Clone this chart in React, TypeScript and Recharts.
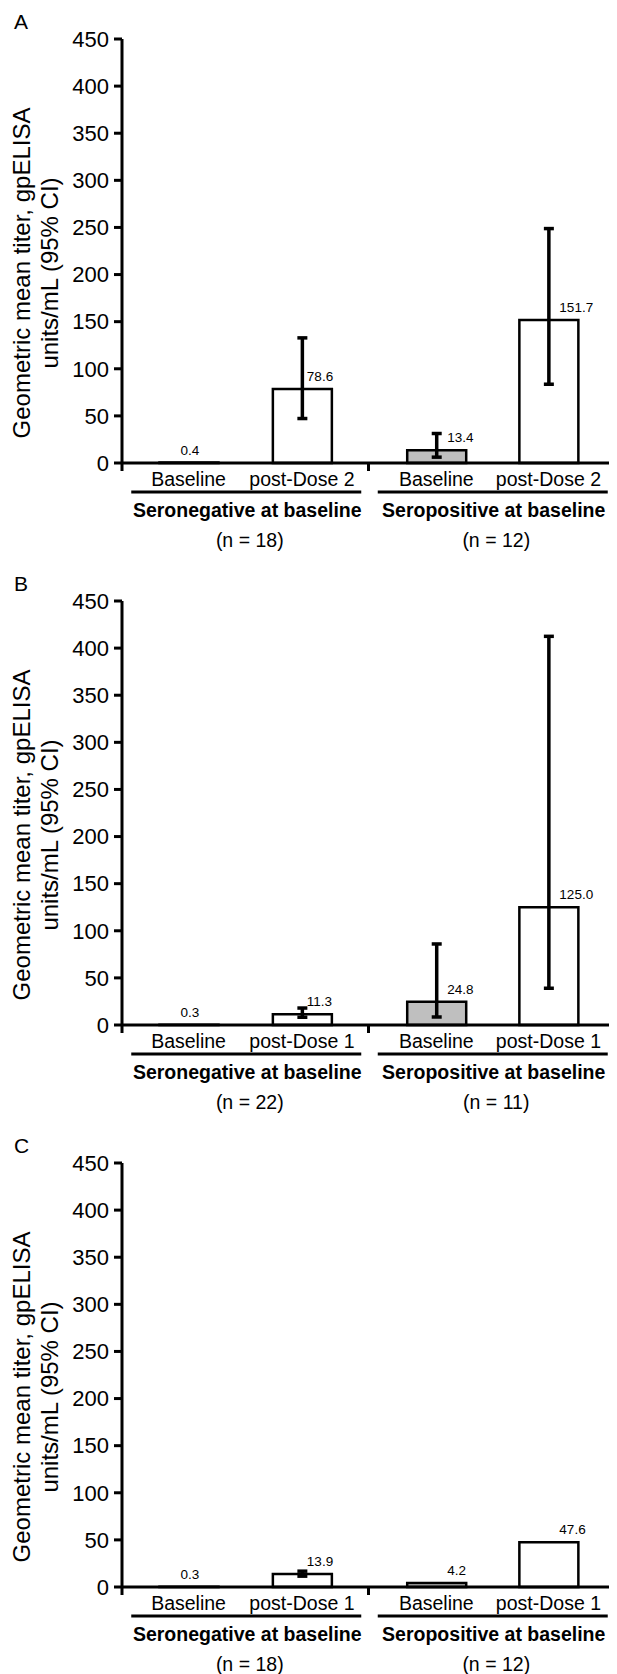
import React from "react"
import { BarChart, Bar, XAxis, YAxis, ErrorBar, LabelList, Cell } from "recharts"

const FONT = "'Liberation Sans', Arial, Helvetica, sans-serif"

const yTicks = [0, 50, 100, 150, 200, 250, 300, 350, 400, 450]
const groupNames = ["Seronegative at baseline", "Seropositive at baseline"]

// panel A
const aCategories = ["Baseline", "post-Dose 2", "Baseline", "post-Dose 2"]
const aGmt = [0.4, 78.6, 13.4, 151.7]
const aLower = [null, 47.2, 6.2, 83.6]
const aUpper = [null, 132.8, 31.3, 248.8]
const aN = [18, 12]

// panel B
const bCategories = ["Baseline", "post-Dose 1", "Baseline", "post-Dose 1"]
const bGmt = [0.3, 11.3, 24.8, 125.0]
const bLower = [null, 8.2, 8.5, 39.0]
const bUpper = [null, 18.0, 86.0, 412.5]
const bN = [22, 11]

// panel C
const cCategories = ["Baseline", "post-Dose 1", "Baseline", "post-Dose 1"]
const cGmt = [0.3, 13.9, 4.2, 47.6]
const cLower = [null, 11.5, null, null]
const cUpper = [null, 16.8, null, null]
const cN = [18, 12]

// layout: bar centres on a 0..2 axis, one unit per group
const slots = [0.27, 0.73, 1.275, 1.73]
const groupTicks = [0.5, 1.5]
const barFills = ["#ffffff", "#ffffff", "#bfbfbf", "#ffffff"]
const labelDx = [1, 4.5, 10.5, 10.5]

type PanelProps = {
  letter: string
  categories: string[]
  gmt: number[]
  lower: (number | null)[]
  upper: (number | null)[]
  n: number[]
}

function Panel({ letter, categories, gmt, lower, upper, n }: PanelProps) {
  const data = gmt.map((v, i) => ({
    pos: slots[i],
    gmt: v,
    err: lower[i] == null ? null : [v - (lower[i] as number), (upper[i] as number) - v],
  }))

  const yLabel = () => (
    <g fontFamily={FONT} fill="#000">
      <text x={6} y={20.5} fontSize={21}>{letter}</text>
      <text
        x={21.7}
        y={265}
        transform="rotate(-90, 21.7, 265)"
        textAnchor="middle"
        fontSize={24}
      >
        <tspan x={21.7} dy={0}>Geometric mean titer, gpELISA</tspan>
        <tspan x={21.7} dy={28.6}>units/mL (95% CI)</tspan>
      </text>
    </g>
  )

  // axis ids "a" (line + ticks), "b" (categories), "c" (groups): declared
  // in reverse so the stacking comes out the same either way
  return (
    <BarChart
      width={609}
      height={562}
      data={data}
      margin={{ top: 31, right: 2, bottom: 2, left: 0 }}
    >
      <YAxis
        type="number"
        domain={[0, 450]}
        ticks={yTicks}
        width={114}
        tickSize={8}
        tickMargin={5}
        interval={0}
        axisLine={{ stroke: "#000", strokeWidth: 3 }}
        tickLine={{ stroke: "#000", strokeWidth: 3 }}
        tick={{ fontSize: 22, fill: "#000", fontFamily: FONT }}
        label={yLabel}
      />
      <XAxis
        xAxisId="c"
        type="number"
        dataKey="pos"
        domain={[0, 2]}
        ticks={groupTicks}
        interval={0}
        height={75}
        tickSize={0}
        tickMargin={0}
        axisLine={false}
        tickLine={false}
        tick={(p: any) => (
          <g key={`g-${p.index}`} fontFamily={FONT} fill="#000">
            <line x1={p.x + 1 - 115} x2={p.x + 1 + 115} y1={p.y - 1} y2={p.y - 1} stroke="#000" strokeWidth={3} />
            <text x={p.x + 2} y={p.y + 24.2} textAnchor="middle" fontSize={19.5} fontWeight="bold">
              {groupNames[p.index]}
            </text>
            <text x={p.x + 4.5} y={p.y + 54} textAnchor="middle" fontSize={19.5}>
              {`(n = ${n[p.index]})`}
            </text>
          </g>
        )}
      />
      <XAxis
        xAxisId="b"
        type="number"
        dataKey="pos"
        domain={[0, 2]}
        ticks={slots}
        interval={0}
        height={22}
        tickSize={0}
        tickMargin={0}
        axisLine={false}
        tickLine={false}
        tick={(p: any) => (
          <text
            key={`c-${p.index}`}
            x={p.x}
            y={p.y + 14.5}
            textAnchor="middle"
            fontSize={19.5}
            fontFamily={FONT}
            fill="#000"
          >
            {categories[p.index]}
          </text>
        )}
      />
      <XAxis
        xAxisId="a"
        type="number"
        dataKey="pos"
        domain={[0, 2]}
        ticks={[0, 1, 2]}
        interval={0}
        height={8}
        tickSize={8}
        axisLine={{ stroke: "#000", strokeWidth: 3 }}
        tickLine={{ stroke: "#000", strokeWidth: 3 }}
        tickFormatter={() => ""}
      />
      <Bar
        xAxisId="a"
        dataKey="gmt"
        barSize={59}
        stroke="#000"
        strokeWidth={2.5}
        isAnimationActive={false}
      >
        {data.map((d, i) => (
          <Cell key={`cell-${i}`} fill={barFills[i]} />
        ))}
        <ErrorBar dataKey="err" direction="y" width={5} strokeWidth={3.5} stroke="#000" isAnimationActive={false} />
        <LabelList
          dataKey="gmt"
          content={(p: any) => {
            const cx = Number(p.x) + Number(p.width) / 2
            return (
              <text
                x={cx + labelDx[p.index]}
                y={Number(p.y) - 8}
                textAnchor={p.index === 0 ? "middle" : "start"}
                fontSize={13.5}
                fontFamily={FONT}
                fill="#000"
              >
                {Number(p.value).toFixed(1)}
              </text>
            )
          }}
        />
      </Bar>
    </BarChart>
  )
}

export default function App() {
  return (
    <div style={{ width: 609 }}>
      <style>{"html, body { overflow: hidden; }"}</style>
      <Panel letter="A" categories={aCategories} gmt={aGmt} lower={aLower} upper={aUpper} n={aN} />
      <Panel letter="B" categories={bCategories} gmt={bGmt} lower={bLower} upper={bUpper} n={bN} />
      <Panel letter="C" categories={cCategories} gmt={cGmt} lower={cLower} upper={cUpper} n={cN} />
    </div>
  )
}
